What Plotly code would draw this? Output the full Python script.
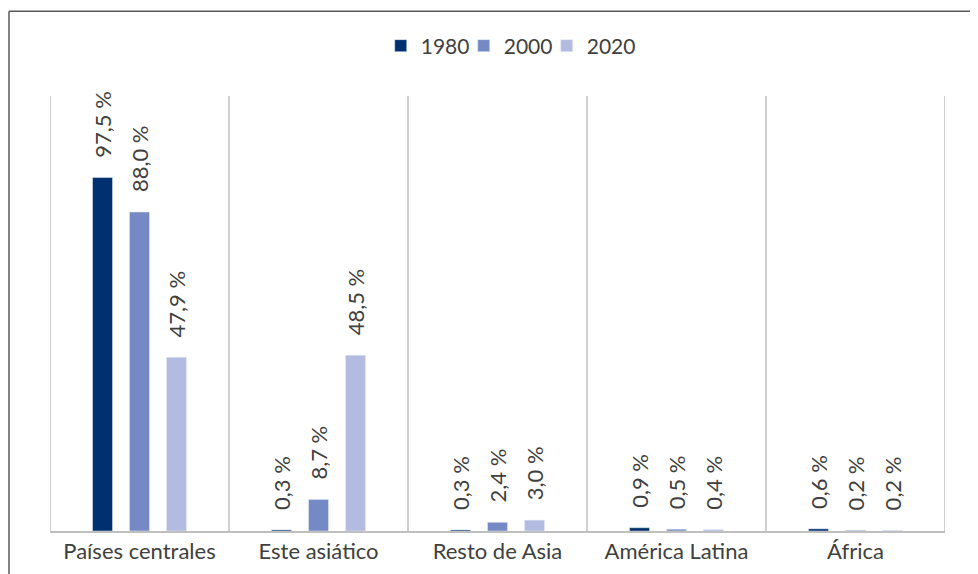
import plotly.graph_objects as go

categories = ["Países centrales", "Este asiático", "Resto de Asia", "América Latina", "África"]
series_names = ["1980", "2000", "2020"]
values_1980 = [97.5, 0.3, 0.3, 0.9, 0.6]
values_2000 = [88.0, 8.7, 2.4, 0.5, 0.2]
values_2020 = [47.9, 48.5, 3.0, 0.4, 0.2]
colors = ["#00306F", "#7589C5", "#B3BCE0"]

FONT = "Lato, Open Sans, sans-serif"
TXT = "#404040"

fig = go.Figure()
for name, vals, col in zip(series_names, [values_1980, values_2000, values_2020], colors):
    fig.add_trace(go.Bar(
        x=categories, y=vals, name=name, marker_color=col,
        text=["\u00a0\u00a0\u00a0" + f"{v:.1f}".replace(".", ",") + " %" for v in vals],
        textposition="outside", textangle=-90, constraintext="none",
        textfont=dict(family=FONT, size=22, color=TXT),
        cliponaxis=False,
    ))

# invisible spacer legend entry so the last legend label is not clipped
fig.add_trace(go.Scatter(x=[None], y=[None], name=" ", mode="markers",
                         marker=dict(color="rgba(0,0,0,0)"), hoverinfo="skip"))

# vertical separators between categories
for i in range(len(categories) + 1):
    fig.add_shape(type="line", xref="x", yref="paper", x0=i - 0.5, x1=i - 0.5, y0=0, y1=1,
                  line=dict(color="#BFBFBF", width=1.5), layer="below")

# outer frame (left + top)
fig.add_shape(type="line", xref="paper", yref="paper", x0=-0.0458, x1=-0.0458, y0=-0.2, y1=1.195,
              line=dict(color="#595959", width=1.5))
fig.add_shape(type="line", xref="paper", yref="paper", x0=-0.0458, x1=1.1, y0=1.195, y1=1.195,
              line=dict(color="#595959", width=1.5))

fig.update_layout(
    width=978, height=574,
    margin=dict(l=42, r=41, t=88, b=51, autoexpand=False),
    plot_bgcolor="white", paper_bgcolor="white",
    barmode="group", bargap=0.38, bargroupgap=0.46,
    showlegend=True,
    legend=dict(orientation="h", x=0.555, xanchor="center", y=1.115, yanchor="middle",
                font=dict(family=FONT, size=21, color=TXT), itemwidth=30, traceorder="normal",
                tracegroupgap=0, entrywidth=38, entrywidthmode="pixels", bgcolor="rgba(0,0,0,0)"),
    font=dict(family=FONT, color=TXT),
    xaxis=dict(showgrid=False, showline=True, linecolor="#BFBFBF", linewidth=1.5,
               ticks="", tickfont=dict(family=FONT, size=22, color=TXT),
               range=[-0.5, 4.5]),
    yaxis=dict(range=[0, 120], showgrid=False, showticklabels=False, zeroline=False, showline=False),
)

fig.write_html("out.html")
